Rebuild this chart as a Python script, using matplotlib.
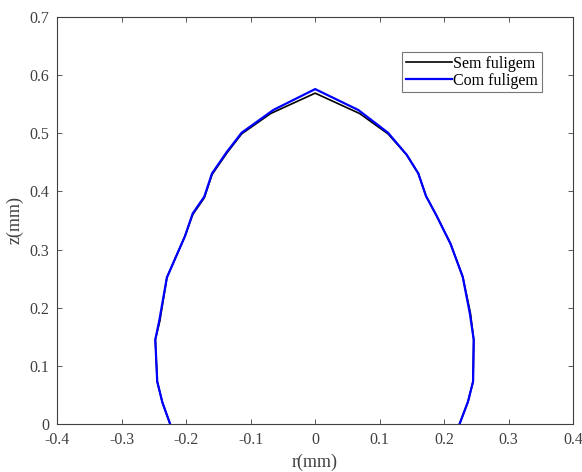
import matplotlib
matplotlib.use("Agg")
import matplotlib.pyplot as plt

plt.rcParams['font.family'] = ['Liberation Serif', 'DejaVu Serif']
plt.rcParams['axes.unicode_minus'] = False

# contorno da gota: do lado direito (z=0) ate o lado esquerdo
r_sem = [0.224, 0.237, 0.245, 0.246, 0.241, 0.229, 0.210, 0.188, 0.172, 0.160,
         0.142, 0.113, 0.069, 0.0, -0.069, -0.114, -0.137, -0.160, -0.172, -0.190,
         -0.202, -0.230, -0.241, -0.248, -0.245, -0.237, -0.225]
z_sem = [0.0, 0.038, 0.073, 0.145, 0.190, 0.253, 0.310, 0.359, 0.392, 0.431,
         0.463, 0.499, 0.534, 0.569, 0.534, 0.499, 0.466, 0.429, 0.389, 0.360,
         0.323, 0.252, 0.177, 0.145, 0.073, 0.037, 0.0]

r_com = [0.224, 0.237, 0.245, 0.246, 0.240, 0.229, 0.210, 0.188, 0.172, 0.160,
         0.142, 0.113, 0.067, 0.0, -0.065, -0.114, -0.137, -0.160, -0.172, -0.190,
         -0.202, -0.230, -0.242, -0.248, -0.245, -0.237, -0.225]
z_com = [0.0, 0.038, 0.073, 0.145, 0.190, 0.253, 0.310, 0.359, 0.392, 0.431,
         0.463, 0.501, 0.540, 0.576, 0.540, 0.501, 0.468, 0.431, 0.391, 0.362,
         0.323, 0.252, 0.177, 0.145, 0.073, 0.037, 0.0]

xticks = [-0.4, -0.3, -0.2, -0.1, 0, 0.1, 0.2, 0.3, 0.4]
xtick_labels = ['-0.4', '-0.3', '-0.2', '-0.1', '0', '0.1', '0.2', '0.3', '0.4']
yticks = [0, 0.1, 0.2, 0.3, 0.4, 0.5, 0.6, 0.7]
ytick_labels = ['0', '0.1', '0.2', '0.3', '0.4', '0.5', '0.6', '0.7']

axis_color = '#404040'

fig = plt.figure(figsize=(5.82, 4.72), dpi=100)
ax = fig.add_axes([0.0985, 0.1017, 0.886, 0.8623])

ax.plot(r_sem, z_sem, color='black', lw=1.2, label='Sem fuligem')
ax.plot(r_com, z_com, color='#0000ff', lw=1.6, label='Com fuligem')

ax.set_xlim(-0.4, 0.4)
ax.set_ylim(0, 0.7)
ax.set_xticks(xticks)
ax.set_xticklabels(xtick_labels)
ax.set_yticks(yticks)
ax.set_yticklabels(ytick_labels)

ax.tick_params(direction='in', length=3.6, width=0.6, colors=axis_color,
               top=True, right=True, labelsize=11.5, pad=6)
for s in ax.spines.values():
    s.set_color(axis_color)
    s.set_linewidth(0.8)

ax.set_xlabel('r(mm)', fontsize=13, color=axis_color, labelpad=4)
ax.set_ylabel('z(mm)', fontsize=13, color=axis_color, labelpad=4)

leg = ax.legend(loc='upper right', bbox_to_anchor=(0.9405, 0.9147),
                borderaxespad=0, fancybox=False, fontsize=11.5,
                handlelength=2.9, handletextpad=0.1, labelspacing=0.05,
                borderpad=0.25)
leg.get_frame().set_edgecolor('#555555')
leg.get_frame().set_linewidth(0.8)

fig.savefig('out.png', dpi=100)
